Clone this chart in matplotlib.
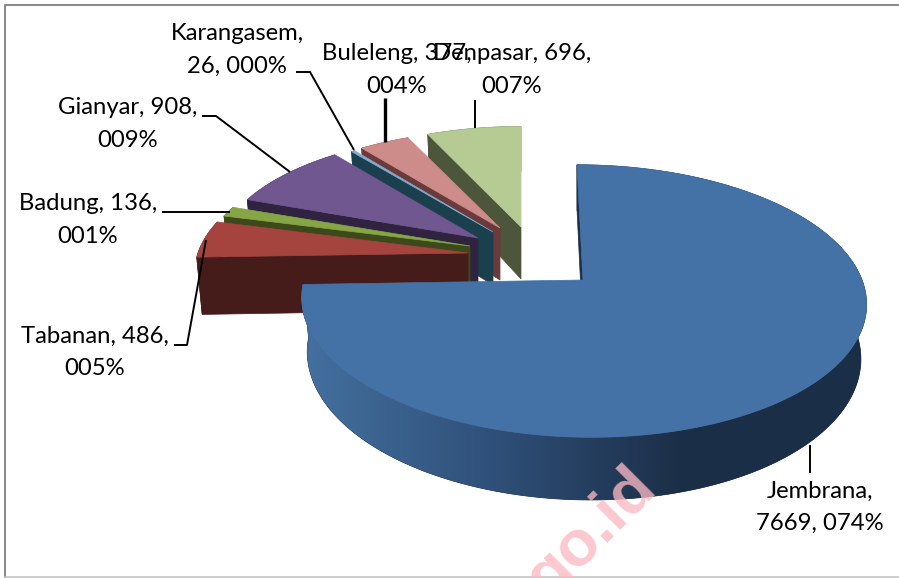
#exploded 3d pie, drawn by hand because matplotlib has no perspective pie

import numpy as np
import matplotlib
matplotlib.use('Agg')
import matplotlib.pyplot as plt
from matplotlib.colors import LinearSegmentedColormap
from matplotlib.patches import Polygon

names = ['Jembrana', 'Tabanan', 'Badung', 'Gianyar', 'Karangasem', 'Buleleng', 'Denpasar']
values = [7669, 486, 136, 908, 26, 377, 696]
percents = ['074%', '005%', '001%', '009%', '000%', '004%', '007%']

# layout of each slice in pixels (the explosion moves and shrinks them)
apex_x = [583, 468, 470, 478, 493, 500, 521]
apex_y = [280, 253, 246, 238, 232, 228, 227]
radius_x = [279, 270, 265, 258, 255, 255, 258]
radius_y = [133, 124, 120, 119, 115, 113, 116]
depth = [53, 57, 55, 56, 53, 52, 52]
skew = [7, 0, 0, 0, 0, 0, 0]
top_colors = ['#4472a6', '#a5433f', '#86a544', '#70578f', '#85a9cf', '#cd8c8a', '#b5cb93']
wall_colors = ['#1b2e47', '#451c19', '#3c4a1b', '#2f2340', '#1a3f4d', '#6b3a3a', '#4d553a']

persp = 0.1545
shrink = 0.98

label_text = ['{},\n{}, {}'.format(names[0], values[0], percents[0]),
              '{}, {},\n{}'.format(names[1], values[1], percents[1]),
              '{}, {},\n{}'.format(names[2], values[2], percents[2]),
              '{}, {},\n{}'.format(names[3], values[3], percents[3]),
              '{},\n{}, {}'.format(names[4], values[4], percents[4]),
              '{}, {},\n{}'.format(names[5], values[5], percents[5]),
              '{}, {},\n{}'.format(names[6], values[6], percents[6])]
label_x = [820, 95, 88, 128, 237, 397, 512]
label_y = [507, 352, 220, 124, 50, 70, 70]

leaders = [[(810, 445), (810, 473)],
           [(174, 345), (187, 345), (206, 240)],
           [(162, 212), (230, 212)],
           [(202, 116), (216, 116), (290, 172)],
           [(296, 72), (310, 72), (354, 150)],
           [(385, 98), (385, 142)],
           [(475, 100), (475, 128)]]
leader_width = [1.4, 1.4, 1.4, 1.4, 1.4, 2.4, 1.4]


def top_point(i, theta):
    # theta in degrees, clockwise from the top of the pie
    u = np.sin(np.radians(theta))
    v = -np.cos(np.radians(theta))
    w = 1 / (1 - persp * v)
    x = apex_x[i] + (radius_x[i] * u + skew[i] * v) * w
    y = apex_y[i] + radius_y[i] * v * w
    return x, y, w


def low_point(i, x, y, w):
    return apex_x[i] + (x - apex_x[i]) * shrink, y + depth[i] * w


fig = plt.figure(figsize=(8.99, 5.78), dpi=100)
ax = fig.add_axes([0, 0, 1, 1])
ax.axis('off')

# frame has no right side in the picture
ax.plot([899, 5, 5], [5, 5, 577], color='#8c8c8c', linewidth=1.5, zorder=1)
ax.plot([5, 899], [577, 577], color='#c4c4c4', linewidth=1.2, zorder=1)

edges = np.cumsum([0] + values) / sum(values) * 360

# back slices first, Jembrana goes on top of all of them
for i in range(len(values) - 1, -1, -1):
    z = 10 + (len(values) - i) * 3
    thetas = np.linspace(edges[i], edges[i + 1], max(int(edges[i + 1] - edges[i]) + 2, 3))
    pts = [top_point(i, t) for t in thetas]
    upper = [(p[0], p[1]) for p in pts]
    lower = [low_point(i, *p) for p in pts]
    apex = (apex_x[i], apex_y[i])
    apex_low = (apex_x[i], apex_y[i] + depth[i])

    # side wall on the start edge of the slice
    ax.add_patch(Polygon([apex, upper[0], lower[0], apex_low], closed=True,
                         facecolor=wall_colors[i], edgecolor=wall_colors[i], linewidth=0.5, zorder=z))
    # outer rim
    rim = Polygon(upper + lower[::-1], closed=True, facecolor=wall_colors[i],
                  edgecolor=wall_colors[i], linewidth=0.5, zorder=z)
    ax.add_patch(rim)
    if i == 0:
        # Jembrana rim gets the light to dark shading
        shade = LinearSegmentedColormap.from_list('rim', ['#44709f', '#2f5079', '#1c2f48', '#1b2e47'])
        im = ax.imshow(np.linspace(0, 1, 256).reshape(1, -1), cmap=shade, aspect='auto',
                       extent=(303, 868, 510, 220), zorder=z + 0.5)
        im.set_clip_path(rim)
    ax.add_patch(Polygon([apex] + upper, closed=True, facecolor=top_colors[i],
                         edgecolor=top_colors[i], linewidth=0.5, zorder=z + 1))

ax.set_xlim(0, 899)
ax.set_ylim(578, 0)

for pts, lw in zip(leaders, leader_width):
    ax.plot([p[0] for p in pts], [p[1] for p in pts], color='black', linewidth=lw,
            solid_capstyle='butt', zorder=40)

for t, x, y in zip(label_text, label_x, label_y):
    ax.text(x, y, t, family='Lato', fontsize=17.2, ha='center', va='center',
            linespacing=1.66, color='black', zorder=41)

ax.text(658, 490, 'go.id', family='Liberation Sans', fontweight='bold', fontsize=47, rotation=45,
        rotation_mode='anchor', ha='right', va='baseline', color='#fcb9c3', alpha=0.78, zorder=50)

fig.savefig('out.png', dpi=100)
